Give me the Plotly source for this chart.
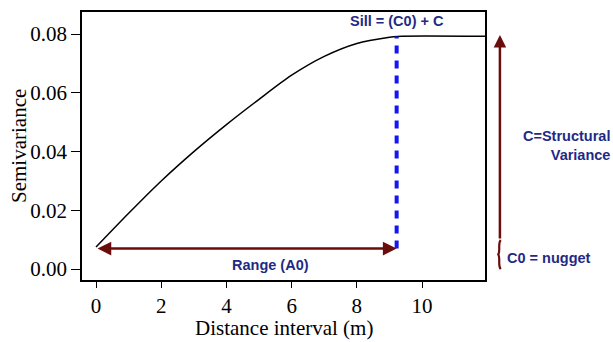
import plotly.graph_objects as go

# Data
dist = [0, 1, 2, 3, 4, 5, 6, 7, 8, 9, 9.25, 12.0]
semivar = [0.0075, 0.0190, 0.0300, 0.0400, 0.0492, 0.0578, 0.0660, 0.0724, 0.0768, 0.0789, 0.0792, 0.0792]

nugget = 0.007
sill = 0.0792
range_a0 = 9.22
x_ticks = [0, 2, 4, 6, 8, 10]
y_ticks = [0.00, 0.02, 0.04, 0.06, 0.08]

navy = "#1f2a85"
darkred = "#6a0d0d"
serif = "Liberation Serif"
sans = "Liberation Sans"

fig = go.Figure()
fig.add_trace(go.Scatter(x=dist, y=semivar, mode="lines", line=dict(color="black", width=1.5, shape="spline", smoothing=0.8),
                         showlegend=False, hoverinfo="skip"))
# Vertical dashed sill line
fig.add_trace(go.Scatter(x=[range_a0, range_a0], y=[nugget, sill], mode="lines",
                         line=dict(color="#1414f5", width=4, dash="8px,7px"), showlegend=False, hoverinfo="skip"))

annotations = [
    # Range double arrow
    dict(x=range_a0, y=nugget, ax=0, ay=nugget, xref="x", yref="y", axref="x", ayref="y",
         text="", showarrow=True, arrowhead=2, arrowside="end+start", arrowsize=1.1, arrowwidth=2.5, arrowcolor=darkred),
    dict(x=5.34, y=0.0015, xref="x", yref="y", text="<b>Range (A0)</b>", showarrow=False,
         font=dict(family=sans, size=14.5, color=navy)),
    dict(x=range_a0, y=0.0843, xref="x", yref="y", text="<b>Sill = (C0) + C</b>", showarrow=False,
         font=dict(family=sans, size=14.5, color=navy)),
    # Vertical structural variance arrow
    dict(x=1.037, y=0.0797, xref="paper", yref="y", ax=0, ay=0.0099, axref="pixel", ayref="y",
         text="", showarrow=True, arrowhead=2, arrowsize=1.0, arrowwidth=2.5, arrowcolor=darkred),
    dict(x=(612 - 82) / 403, y=0.0420, xref="paper", yref="y", text="<b>C=Structural<br>Variance</b>", showarrow=False,
         xanchor="right", align="right", font=dict(family=sans, size=14.5, color=navy)),
    dict(x=1.050, y=0.0038, xref="paper", yref="y", text="<b>C0 = nugget</b>", showarrow=False,
         xanchor="left", font=dict(family=sans, size=14.5, color=navy)),
    # Axis titles
    dict(x=0.5, y=(280 - 328) / 268, xref="paper", yref="paper", text="Distance interval (m)", showarrow=False,
         xanchor="center", yanchor="middle", font=dict(family=serif, size=21, color="black")),
    dict(x=(19 - 82) / 403, y=0.5, xref="paper", yref="paper", text="Semivariance", showarrow=False,
         textangle=-90, xanchor="center", yanchor="middle", font=dict(family=serif, size=21, color="black")),
]

shapes = [
    # brace for nugget
    dict(type="path", xref="paper", yref="y",
         path="M 1.039,0.0099 C 1.031,0.0088 1.039,0.0062 1.033,0.0050 C 1.039,0.0038 1.031,0.0012 1.039,0.0000",
         line=dict(color=darkred, width=2.2)),
]

fig.update_layout(
    width=613, height=342,
    margin=dict(l=82, r=128, t=12, b=62),
    paper_bgcolor="white", plot_bgcolor="white",
    annotations=annotations, shapes=shapes,
    xaxis=dict(range=[-0.43, 11.93], tickvals=x_ticks, ticks="outside", ticklen=6, tickcolor="black",
               showline=True, mirror=True, linecolor="black", linewidth=1.5, showgrid=False, zeroline=False,
               automargin=False,
               tickfont=dict(family=serif, size=21, color="black")),
    yaxis=dict(range=[-0.0037, 0.0875], tickvals=y_ticks, tickformat=".2f", ticks="outside", ticklen=9,
               tickcolor="black", showline=True, mirror=True, linecolor="black", linewidth=1.5,
               showgrid=False, zeroline=False, automargin=False,
               tickfont=dict(family=serif, size=21, color="black")),
)

fig.write_html("out.html")
